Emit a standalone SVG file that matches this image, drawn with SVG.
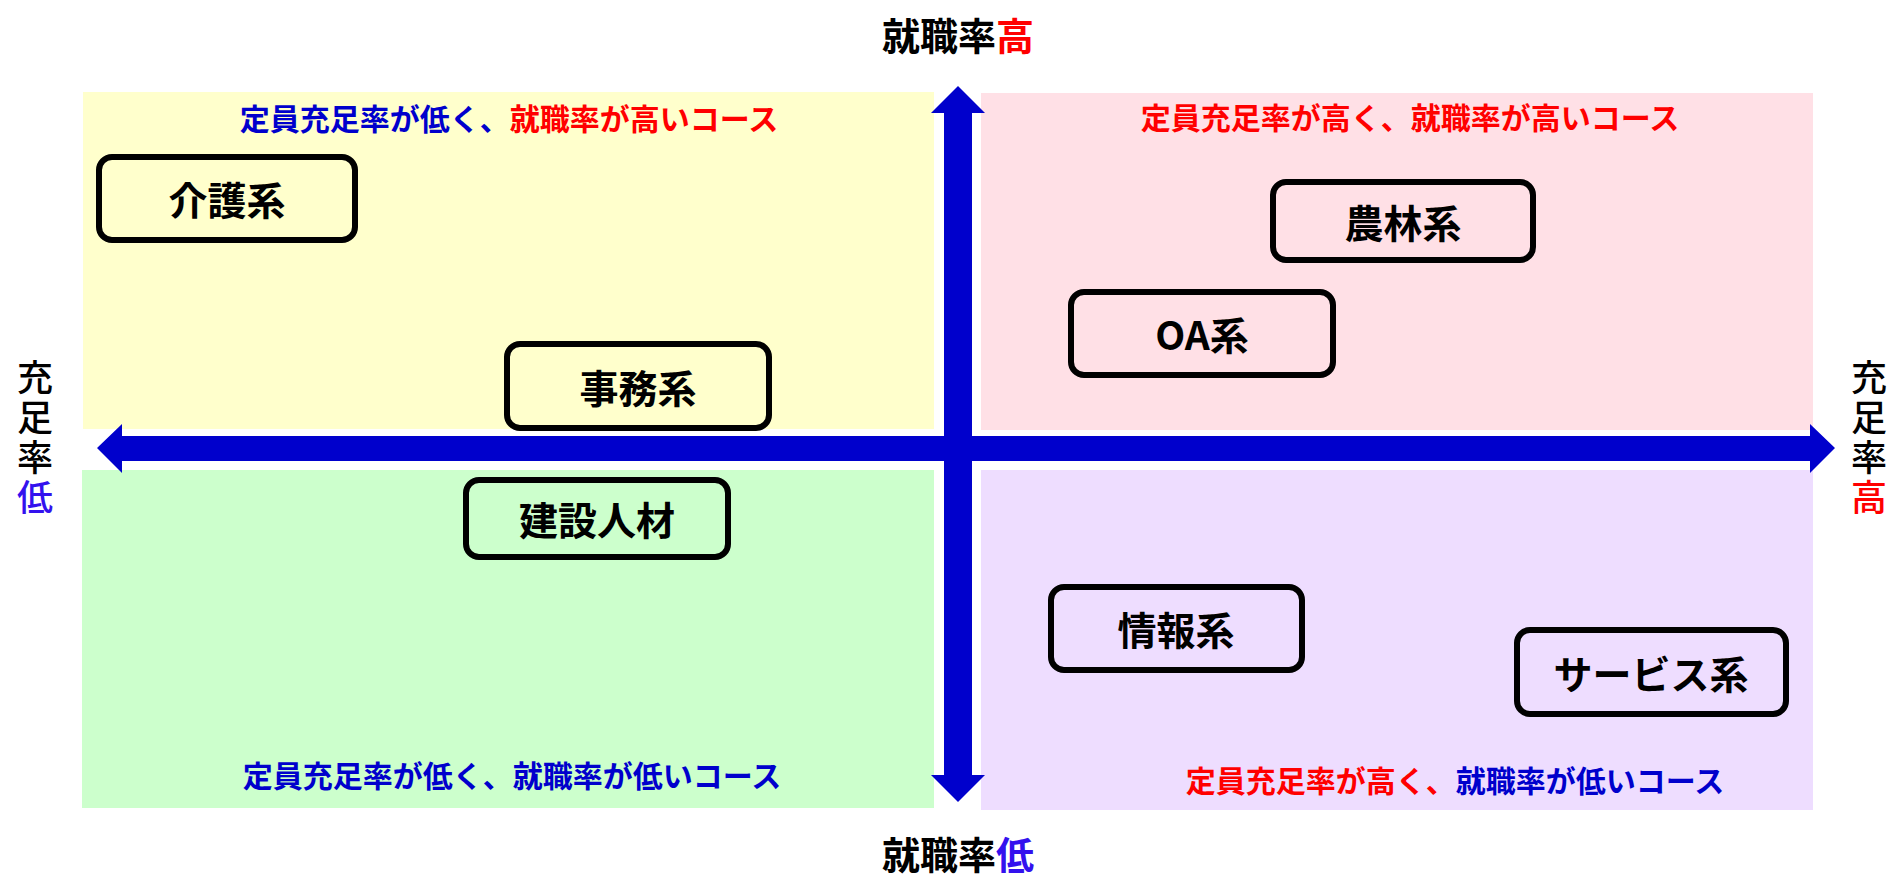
<svg xmlns="http://www.w3.org/2000/svg" width="1894" height="877" viewBox="0 0 1894 877">
<style>
text{font-family:"Noto Sans CJK JP","Liberation Sans",sans-serif;text-anchor:middle;dominant-baseline:central}
.q{font-size:30px;font-weight:bold}
.t{font-size:38px;font-weight:bold}
.s{font-size:36px;font-weight:500;writing-mode:vertical-rl;text-anchor:start;letter-spacing:4px}
.box{fill:none;stroke:#000;stroke-width:6}
.n{font-size:39px;font-weight:bold;fill:#000}
.b{fill:#0000CC}
.r{fill:#FF0000}
.v{fill:#3311EE}
</style>
<rect width="1894" height="877" fill="#fff"/>
<g id="quadrants">
<rect x="83" y="92" width="851" height="337" fill="#FFFFCC"/>
<rect x="981" y="93" width="832" height="337" fill="#FFE0E6"/>
<rect x="82" y="470" width="852" height="338" fill="#CCFFCC"/>
<rect x="981" y="470" width="832" height="340" fill="#EEDDFF"/>
</g>
<g id="connectors">
<polygon fill="#0000CC" points="97,448 122,424 122,436 1810,436 1810,424 1835,448 1810,473 1810,461 122,461 122,473"/>
<polygon fill="#0000CC" points="958,86 985,113 972,113 972,775 985,775 958,802 931,775 944,775 944,113 931,113"/>
</g>
<g id="quadrant-labels">
<text class="q" x="509" y="117"><tspan class="b">定員充足率が低く、</tspan><tspan class="r">就職率が高いコース</tspan></text>
<text class="q" x="1410" y="116"><tspan class="r">定員充足率が高く、就職率が高いコース</tspan></text>
<text class="q" x="512" y="774"><tspan class="b">定員充足率が低く、就職率が低いコース</tspan></text>
<text class="q" x="1455" y="779"><tspan class="r">定員充足率が高く、</tspan><tspan class="b">就職率が低いコース</tspan></text>
</g>
<g id="axis-labels">
<text class="t" x="958" y="33">就職率<tspan class="r">高</tspan></text>
<text class="t" x="958" y="852">就職率<tspan class="v">低</tspan></text>
<text class="s" x="35" y="359">充足率<tspan class="v">低</tspan></text>
<text class="s" x="1869" y="359">充足率<tspan class="r">高</tspan></text>
</g>
<g id="node-kaigo"><rect class="box" x="99" y="157" width="256" height="83" rx="13"/><text class="n" x="227" y="198">介護系</text></g>
<g id="node-jimu"><rect class="box" x="507" y="344" width="262" height="84" rx="13"/><text class="n" x="638" y="386">事務系</text></g>
<g id="node-norin"><rect class="box" x="1273" y="182" width="260" height="78" rx="13"/><text class="n" x="1403" y="221">農林系</text></g>
<g id="node-oa"><rect class="box" x="1071" y="292" width="262" height="83" rx="13"/><text class="n" x="1202" y="333">OA系</text></g>
<g id="node-kensetsu"><rect class="box" x="466" y="480" width="262" height="77" rx="13"/><text class="n" x="597" y="518">建設人材</text></g>
<g id="node-joho"><rect class="box" x="1051" y="587" width="251" height="83" rx="13"/><text class="n" x="1176" y="628">情報系</text></g>
<g id="node-service"><rect class="box" x="1517" y="630" width="269" height="84" rx="13"/><text class="n" x="1651" y="672">サービス系</text></g>
</svg>
